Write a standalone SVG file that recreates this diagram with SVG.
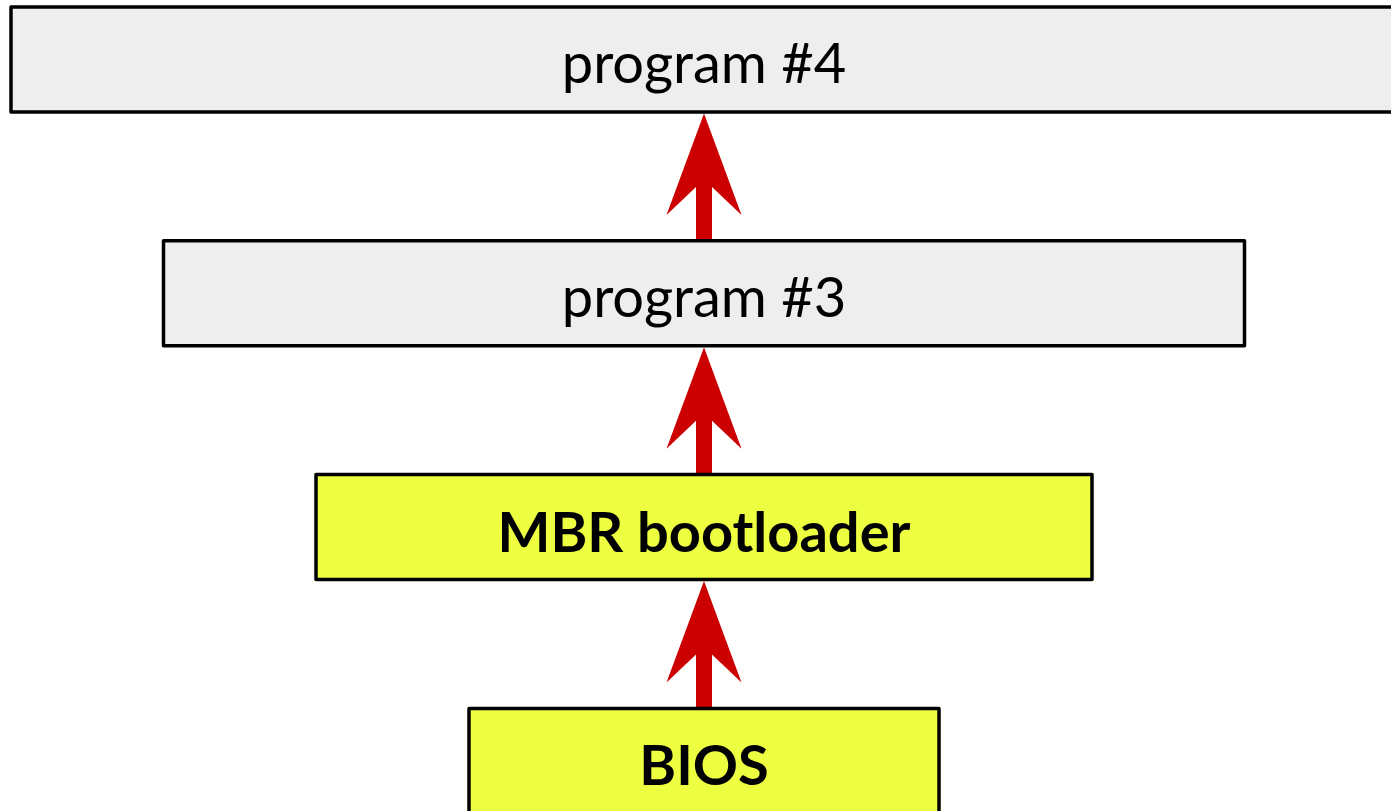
<svg xmlns="http://www.w3.org/2000/svg" width="1391" height="811" viewBox="0 0 1391 811">
<defs>
<style>
.box{stroke:#000;stroke-width:3.5;stroke-linejoin:round}
.gray{fill:#eeeeee}
.lime{fill:#eeff41}
.t{font-family:Lato,"Open Sans",sans-serif;font-size:56px;fill:#000;text-anchor:middle}
.b{font-weight:bold;font-size:56px}
.arrow{fill:#cc0000}
</style>
<path id="arr" d="M704,113.5 L741.5,215 L712,187 L712,240.5 L696,240.5 L696,187 L666.5,215 Z"/>
</defs>
<rect width="1391" height="811" fill="#fff"/>
<g id="connectors" class="arrow">
<use href="#arr"/>
<use href="#arr" transform="translate(0,233.8)"/>
<use href="#arr" transform="translate(0,467.6)"/>
</g>
<g id="program4">
<rect class="box gray" x="11" y="7" width="1386" height="105"/>
<text class="t" x="704" y="83">program #4</text>
</g>
<g id="program3">
<rect class="box gray" x="163.5" y="240.8" width="1081" height="105"/>
<text class="t" x="704" y="316.8">program #3</text>
</g>
<g id="mbr">
<rect class="box lime" x="316" y="474.6" width="776" height="105"/>
<text class="t b" x="704" y="551.5">MBR bootloader</text>
</g>
<g id="bios">
<rect class="box lime" x="469" y="708.4" width="470" height="105"/>
<text class="t b" x="704" y="785">BIOS</text>
</g>
</svg>
